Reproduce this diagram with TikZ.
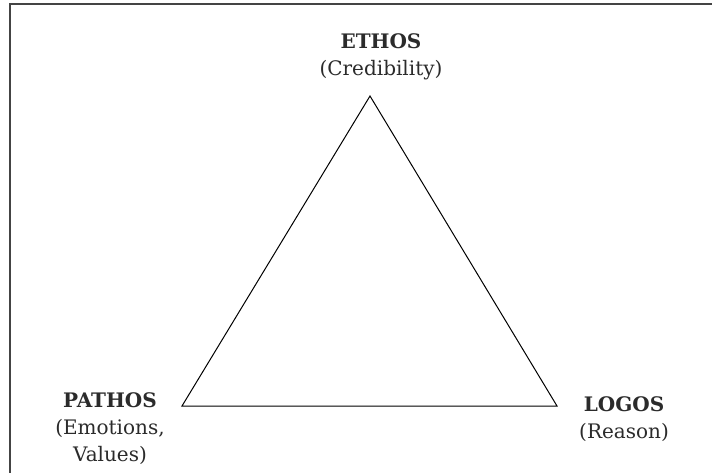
\documentclass[tikz,border=0pt]{standalone}
\usepackage{fontspec}
\setmainfont{DejaVu Serif}
\usetikzlibrary{
    positioning,        % posizionamento dei nodi
    calc
}
\definecolor{testo}{HTML}{2B2B2B}
\definecolor{cornice}{HTML}{444444}

\begin{document}
\begin{tikzpicture}[x=1pt, y=-1pt,
    etichetta/.style={align=center, text=testo, inner sep=0pt,
        font=\fontsize{20}{27}\selectfont}]

        \useasboundingbox (0,0) rectangle (712,473);

        % Cornice (tagliata a destra e in basso)
        \draw[cornice, line width=2pt] (10,475) -- (10,4) -- (714,4);

        % Vertici del triangolo
        \coordinate (ethos) at (370,96);
        \coordinate (pathos) at (182,406);
        \coordinate (logos) at (557,406);

        % Triangolo
        \draw[line width=1pt, line join=miter] (ethos) -- (logos) -- (pathos) -- cycle;

        % Etichette dei vertici
        \node[etichetta] (ethoslbl) at (381,57) {\textbf{ETHOS}\\(Credibility)};
        \node[etichetta] (pathoslbl) at (110,429) {\textbf{PATHOS}\\(Emotions,\\Values)};
        \node[etichetta] (logoslbl) at (624,419) {\textbf{LOGOS}\\(Reason)};

    \end{tikzpicture}
\end{document}
